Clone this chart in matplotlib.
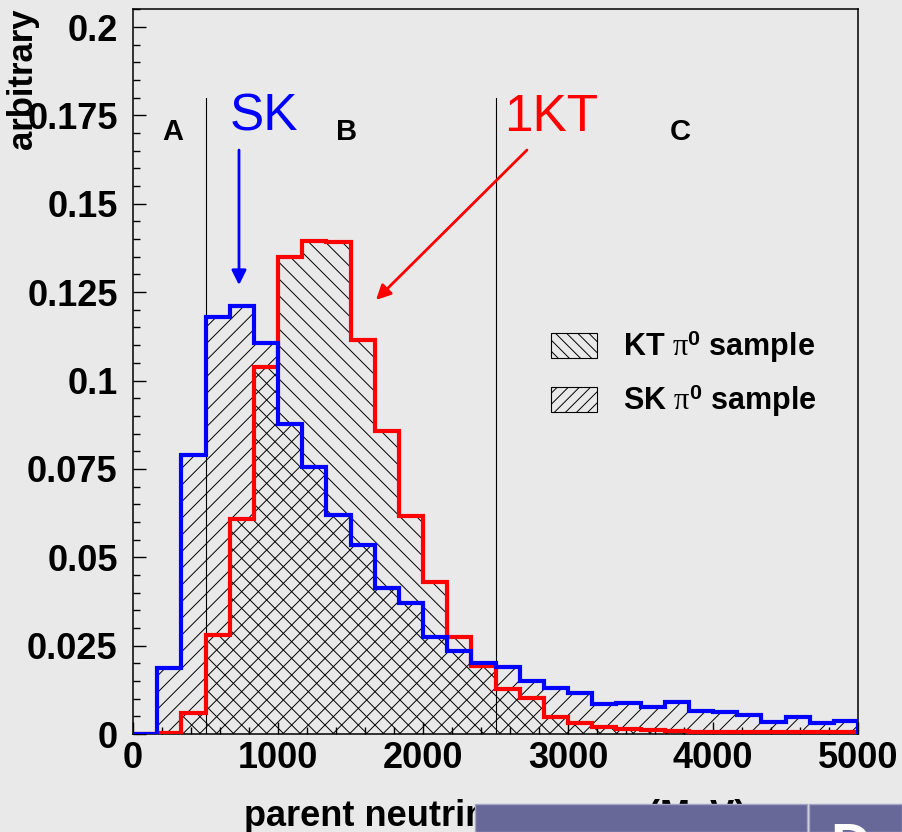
import numpy as np
import matplotlib
matplotlib.use("Agg")
import matplotlib.pyplot as plt
from matplotlib.patches import Patch, Rectangle
from matplotlib.ticker import FixedLocator, MultipleLocator

plt.rcParams['font.family'] = ['Liberation Sans', 'DejaVu Sans']
plt.rcParams['mathtext.fontset'] = 'custom'
plt.rcParams['mathtext.rm'] = 'Liberation Serif'
plt.rcParams['mathtext.it'] = 'Liberation Serif:italic'
plt.rcParams['mathtext.bf'] = 'Liberation Sans:bold'
plt.rcParams['hatch.linewidth'] = 0.7
plt.rcParams['hatch.color'] = 'black'

BG = '#e9e9e9'

# 30 bins of 166.7 MeV from 0 to 5000
edges = np.linspace(0, 5000, 31)

# SK pi0 sample (blue)
sk_vals = [0.0, 0.0186, 0.079, 0.118, 0.1211, 0.1107, 0.0877, 0.0756, 0.062, 0.0535,
           0.0414, 0.037, 0.0275, 0.0236, 0.020, 0.019, 0.015, 0.0129, 0.0115, 0.0084,
           0.0087, 0.0077, 0.009, 0.0066, 0.0063, 0.0054, 0.0035, 0.0049, 0.003, 0.0038]

# KT pi0 sample (red)
kt_vals = [0.0, 0.0004, 0.0059, 0.028, 0.0607, 0.1039, 0.1349, 0.1396, 0.1392, 0.1115,
           0.0858, 0.0617, 0.0431, 0.0275, 0.0192, 0.0128, 0.0103, 0.0049, 0.003, 0.002,
           0.0013, 0.001, 0.0008, 0.0007, 0.0006, 0.0006, 0.0005, 0.0005, 0.0005, 0.0005]

yticks = [0, 0.025, 0.05, 0.075, 0.1, 0.125, 0.15, 0.175, 0.2]
ytick_labels = ["0", "0.025", "0.05", "0.075", "0.1", "0.125", "0.15", "0.175", "0.2"]
xticks = [0, 1000, 2000, 3000, 4000, 5000]
xtick_labels = ["0", "1000", "2000", "3000", "4000", "5000"]

region_cuts = [500, 2500]
region_names = ["A", "B", "C"]
region_x = [276, 1476, 3772]

fig = plt.figure(figsize=(9.02, 8.32), dpi=100, facecolor=BG)
ax = fig.add_axes([133/902, 1 - 734/832, 725/902, 725/832])
ax.set_facecolor(BG)

# hatched fills (black hatch, no face)
ax.stairs(kt_vals, edges, fill=True, hatch='\\\\', facecolor='none',
          edgecolor='black', linewidth=0, zorder=2)
ax.stairs(sk_vals, edges, fill=True, hatch='//', facecolor='none',
          edgecolor='black', linewidth=0, zorder=2)

# coloured outlines
ax.stairs(kt_vals, edges, color='#ff0000', linewidth=3, zorder=4)
ax.stairs(sk_vals, edges, color='#0000ff', linewidth=3, zorder=4)

# region boundaries
for xc in region_cuts:
    ax.plot([xc, xc], [0, 0.18], color='black', linewidth=0.8, zorder=3)
for nm, xp in zip(region_names, region_x):
    ax.text(xp, 0.1703, nm, ha='center', va='center', fontsize=21,
            fontweight='bold', color='black')

ax.text(903, 0.1745, "SK", ha='center', va='center', fontsize=37, color='#0000ff')
ax.text(2883, 0.1745, "1KT", ha='center', va='center', fontsize=37, color='#ff0000')

ax.annotate("", xy=(731, 0.127), xytext=(731, 0.1652),
            arrowprops=dict(arrowstyle='-|>', color='#0000ff', lw=2,
                            mutation_scale=22, shrinkA=0, shrinkB=0))
ax.annotate("", xy=(1676, 0.1228), xytext=(2717, 0.1652),
            arrowprops=dict(arrowstyle='-|>', color='#ff0000', lw=2,
                            mutation_scale=22, shrinkA=0, shrinkB=0))

ax.set_xlim(0, 5000)
ax.set_ylim(0, 0.2051)

ax.yaxis.set_major_locator(FixedLocator(yticks))
ax.set_yticklabels(ytick_labels)
ax.xaxis.set_major_locator(FixedLocator(xticks))
ax.set_xticklabels(xtick_labels)
ax.yaxis.set_minor_locator(MultipleLocator(0.005))
ax.xaxis.set_minor_locator(MultipleLocator(200))
ax.tick_params(axis='both', which='both', direction='in', top=False, right=False,
               width=1)
ax.tick_params(axis='both', which='major', length=9, labelsize=26)
ax.tick_params(axis='both', which='minor', length=5)
ax.tick_params(axis='y', which='major', pad=11)
ax.tick_params(axis='x', which='major', pad=5)
for lab in ax.get_xticklabels() + ax.get_yticklabels():
    lab.set_fontweight('bold')
for sp in ax.spines.values():
    sp.set_linewidth(1.1)
    sp.set_color('black')

handles = [Patch(facecolor='none', edgecolor='black', hatch='\\\\\\', linewidth=0.8),
           Patch(facecolor='none', edgecolor='black', hatch='///', linewidth=0.8)]
labels = [r"KT $\mathrm{\pi}^{\mathbf{0}}$ sample", r"SK $\mathrm{\pi}^{\mathbf{0}}$ sample"]
ax.legend(handles, labels, loc='center left', bbox_to_anchor=(0.5766, 0.497),
          frameon=False, prop={'weight': 'bold', 'size': 22},
          handlelength=1.5, handleheight=0.9, handletextpad=0.85,
          labelspacing=0.55, borderpad=0, borderaxespad=0)

fig.text(22/902, 1 - 8/832, "arbitrary", rotation=90, ha='center', va='top',
         fontsize=25, fontweight='bold')
fig.text(495/902, (832 - 826)/832, "parent neutrino energy (MeV)", ha='center',
         va='baseline', fontsize=26, fontweight='bold')

# slide overlay boxes at the bottom
fig.patches.append(Rectangle((475/902, 0), (807 - 475)/902, 28/832,
                             transform=fig.transFigure, facecolor='#686898',
                             edgecolor='#a4a4c8', linewidth=1, zorder=10))
fig.patches.append(Rectangle((809/902, 0), (902 - 809)/902, 28/832,
                             transform=fig.transFigure, facecolor='#686898',
                             edgecolor='#a4a4c8', linewidth=1, zorder=10))
fig.text(830/902, (832 - 822)/832, "D", ha='left', va='top', fontsize=40,
         fontweight='bold', color='white', zorder=11)

fig.savefig("out.png", dpi=100, facecolor=BG)
